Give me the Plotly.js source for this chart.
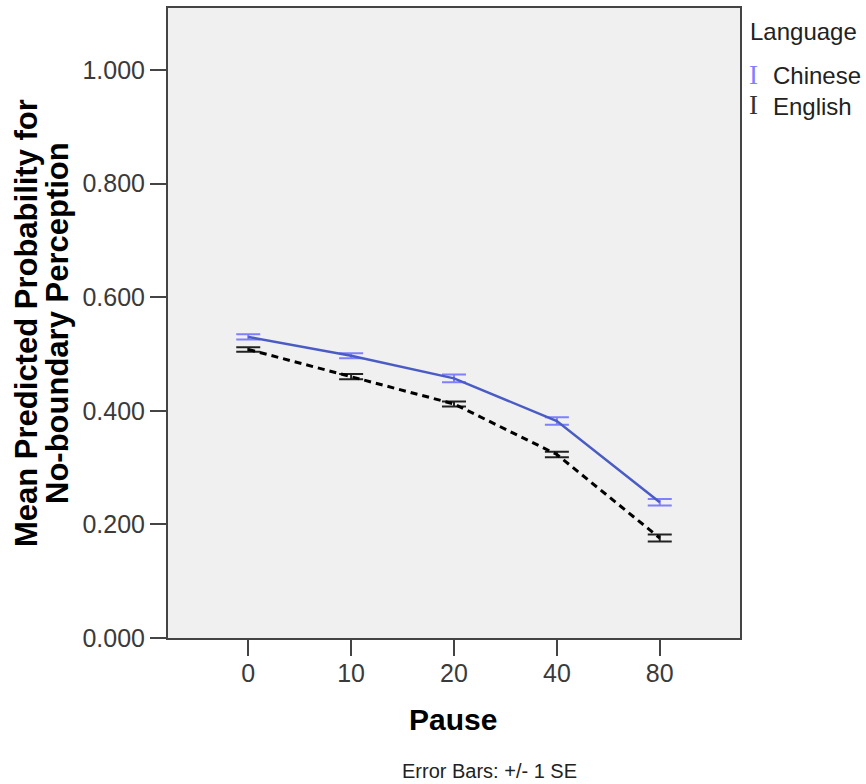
<!DOCTYPE html>
<html>
<head>
<meta charset="utf-8">
<script src="https://cdn.plot.ly/plotly-3.0.1.min.js"></script>
<style>
  html, body { margin: 0; padding: 0; background: #ffffff; }
  #chart { width: 866px; height: 784px; }
</style>
</head>
<body>
<div id="chart"></div>
<script>
// Pause conditions (ms) shown as categories on the x axis
const pauses = ['0', '10', '20', '40', '80'];

// Mean predicted probability for no-boundary perception, by language
const chineseMean = [0.530, 0.497, 0.457, 0.382, 0.239];
const chineseSE   = [0.0047, 0.0044, 0.0070, 0.0067, 0.0056];

const englishMean = [0.508, 0.460, 0.412, 0.323, 0.176];
const englishSE   = [0.0040, 0.0047, 0.0044, 0.0050, 0.0060];

const yTicks = [0, 0.2, 0.4, 0.6, 0.8, 1.0];

const FONT = '"Liberation Sans", Arial, Helvetica, sans-serif';
const SERIF = '"Liberation Serif", "DejaVu Serif", serif';

const chinese = {
  type: 'scatter',
  mode: 'lines',
  name: 'Chinese',
  x: pauses,
  y: chineseMean,
  line: { color: '#4a5cc4', width: 2.5 },
  error_y: {
    type: 'data', array: chineseSE, visible: true,
    color: '#7f7fff', thickness: 2, width: 12
  },
  showlegend: false,
  hoverinfo: 'x+y'
};

const english = {
  type: 'scatter',
  mode: 'lines',
  name: 'English',
  x: pauses,
  y: englishMean,
  line: { color: '#000000', width: 3, dash: '7px,5px' },
  error_y: {
    type: 'data', array: englishSE, visible: true,
    color: '#222222', thickness: 2, width: 12
  },
  showlegend: false,
  hoverinfo: 'x+y'
};

// Pixel helpers for placing paper-referenced labels
const PLOT = { left: 168, right: 740, top: 8, bottom: 638 };
const px = v => (v - PLOT.left) / (PLOT.right - PLOT.left);
const py = v => (PLOT.bottom - v) / (PLOT.bottom - PLOT.top);

const annotations = [
  // y-axis title, two lines
  { text: '<b>Mean Predicted Probability for</b>', xref: 'paper', yref: 'paper',
    x: px(26), y: 0.5, xanchor: 'center', yanchor: 'middle', textangle: -90,
    showarrow: false, font: { family: FONT, size: 31, color: '#000' } },
  { text: '<b>No-boundary Perception</b>', xref: 'paper', yref: 'paper',
    x: px(57), y: 0.5, xanchor: 'center', yanchor: 'middle', textangle: -90,
    showarrow: false, font: { family: FONT, size: 31, color: '#000' } },
  // x-axis title
  { text: '<b>Pause</b>', xref: 'paper', yref: 'paper',
    x: px(453), y: py(719), xanchor: 'center', yanchor: 'middle',
    showarrow: false, font: { family: FONT, size: 30, color: '#000' } },
  // footnote
  { text: 'Error Bars: +/- 1 SE', xref: 'paper', yref: 'paper',
    x: px(489), y: py(771), xanchor: 'center', yanchor: 'middle',
    showarrow: false, font: { family: FONT, size: 20, color: '#222' } },
  // legend
  { text: 'Language', xref: 'paper', yref: 'paper',
    x: px(748), y: py(32), xanchor: 'left', yanchor: 'middle',
    showarrow: false, font: { family: FONT, size: 24, color: '#222' } },
  { text: 'I', xref: 'paper', yref: 'paper',
    x: px(747), y: py(75), xanchor: 'left', yanchor: 'middle',
    showarrow: false, font: { family: SERIF, size: 27, color: '#7f7fff' } },
  { text: 'Chinese', xref: 'paper', yref: 'paper',
    x: px(771), y: py(76), xanchor: 'left', yanchor: 'middle',
    showarrow: false, font: { family: FONT, size: 24, color: '#222' } },
  { text: 'I', xref: 'paper', yref: 'paper',
    x: px(747), y: py(105), xanchor: 'left', yanchor: 'middle',
    showarrow: false, font: { family: SERIF, size: 27, color: '#333' } },
  { text: 'English', xref: 'paper', yref: 'paper',
    x: px(771), y: py(106), xanchor: 'left', yanchor: 'middle',
    showarrow: false, font: { family: FONT, size: 24, color: '#222' } }
];

const layout = {
  width: 866,
  height: 784,
  margin: { l: PLOT.left, r: 866 - PLOT.right, t: PLOT.top, b: 784 - PLOT.bottom, pad: 0 },
  paper_bgcolor: '#ffffff',
  plot_bgcolor: '#f0f0f0',
  font: { family: FONT, color: '#333' },
  showlegend: false,
  xaxis: {
    type: 'category',
    categoryorder: 'array',
    categoryarray: pauses,
    range: [-0.78, 4.78],
    showgrid: false,
    zeroline: false,
    showline: true, mirror: true,
    linecolor: '#444', linewidth: 2,
    ticks: 'outside', ticklen: 16, tickwidth: 2, tickcolor: '#444',
    ticklabelstandoff: -4,
    tickfont: { family: FONT, size: 25, color: '#3a3a3a' }
  },
  yaxis: {
    range: [0, 1.109],
    tickvals: yTicks,
    tickformat: '.3f',
    showgrid: false,
    zeroline: false,
    showline: true, mirror: true,
    linecolor: '#444', linewidth: 2,
    ticks: 'outside', ticklen: 16, tickwidth: 2, tickcolor: '#444',
    tickfont: { family: FONT, size: 25, color: '#3a3a3a' }
  },
  annotations: annotations
};

Plotly.newPlot('chart', [chinese, english], layout, { displayModeBar: false, staticPlot: true });
</script>
</body>
</html>
